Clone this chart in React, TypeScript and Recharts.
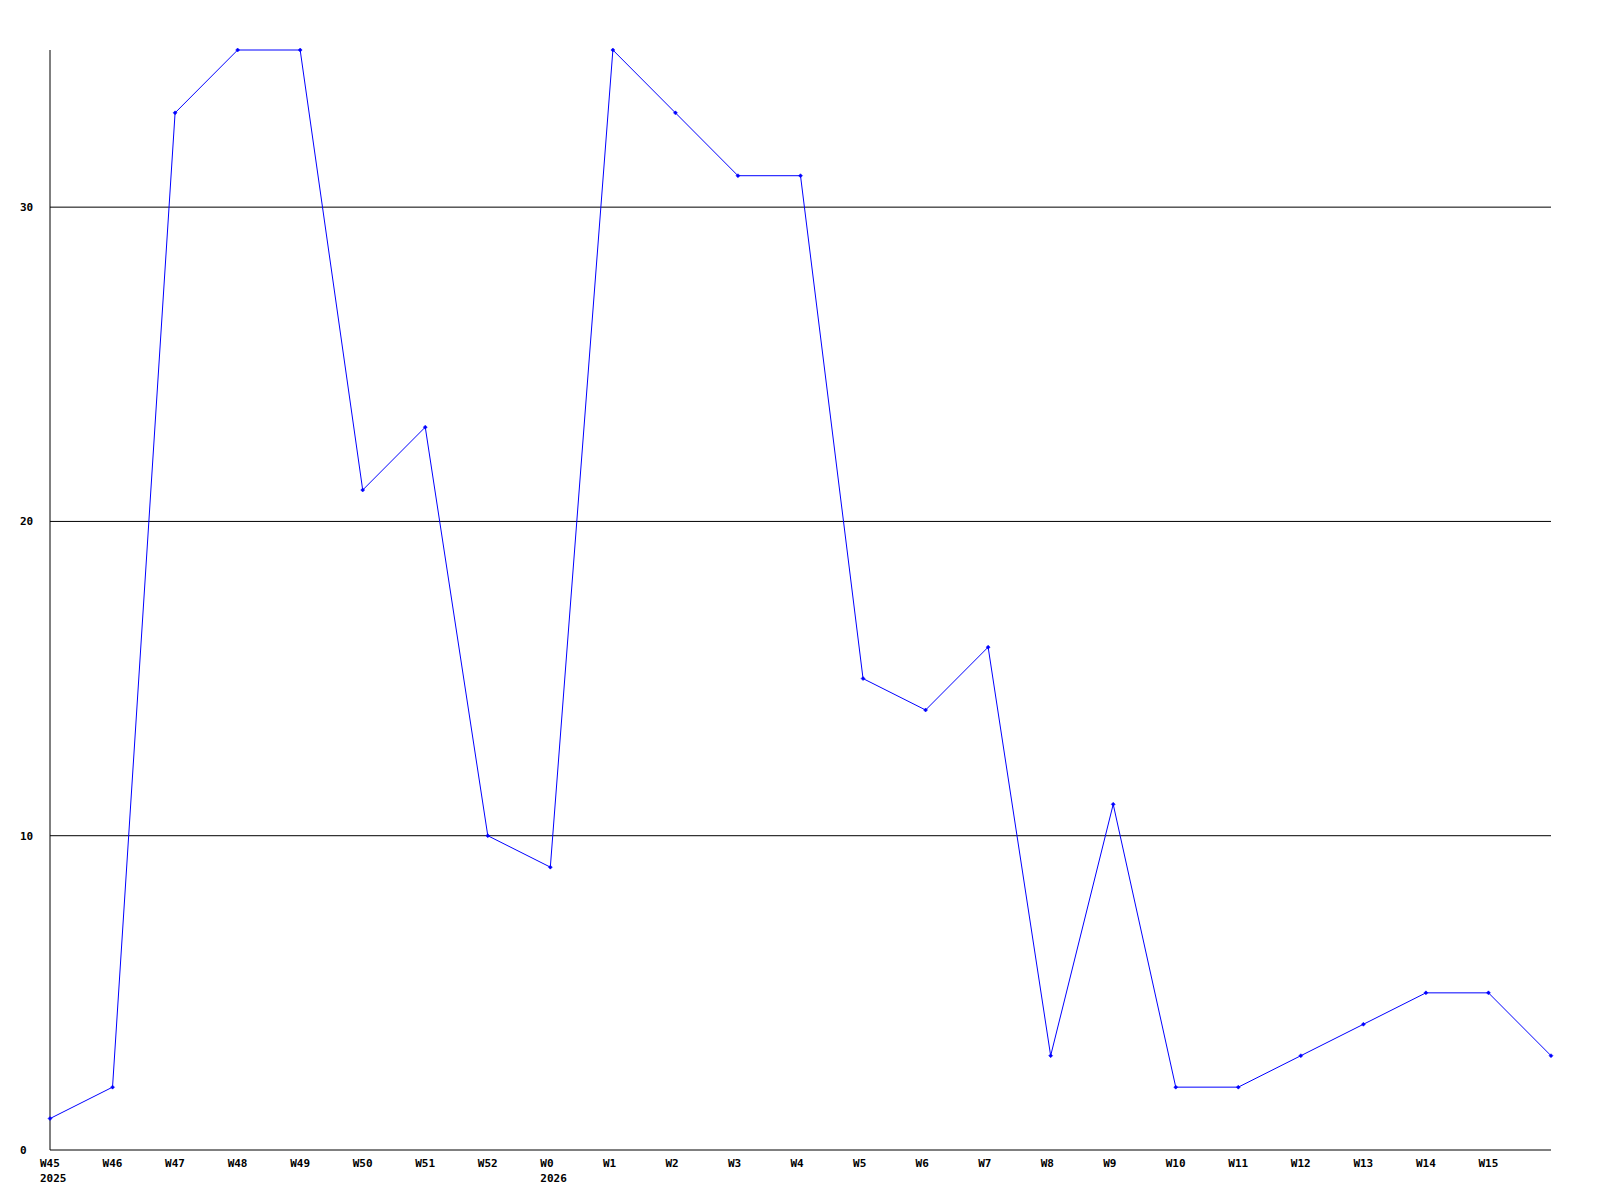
import { CartesianGrid, Line, LineChart, XAxis, YAxis } from "recharts";

const weeks = [
  "W45", "W46", "W47", "W48", "W49", "W50", "W51", "W52", "W0", "W1", "W2", "W3",
  "W4", "W5", "W6", "W7", "W8", "W9", "W10", "W11", "W12", "W13", "W14", "W15", "",
];
const counts = [1, 2, 33, 35, 35, 21, 23, 10, 9, 35, 33, 31, 31, 15, 14, 16, 3, 11, 2, 2, 3, 4, 5, 5, 3];
const years: Record<string, string> = { W45: "2025", W0: "2026" };
const yTicks = [0, 10, 20, 30];
const gridValues = [10, 20, 30];

const data = weeks.map((week, i) => ({ week, count: counts[i] }));

const font = { fontFamily: "'DejaVu Sans Mono', monospace", fontSize: 11, fontWeight: "bold" as const };

function WeekTick({ x, y, payload }: any) {
  const year = years[payload.value];
  return (
    <g>
      <text x={x - 10} y={y + 9} textAnchor="start" fill="#000" {...font}>
        {payload.value}
      </text>
      {year && (
        <text x={x - 10} y={y + 24} textAnchor="start" fill="#000" {...font}>
          {year}
        </text>
      )}
    </g>
  );
}

function CountTick({ y, payload }: any) {
  return (
    <text x={20} y={y + 4} textAnchor="start" fill="#000" {...font}>
      {payload.value}
    </text>
  );
}

function Marker({ cx, cy }: any) {
  if (cx == null || cy == null) return null;
  return (
    <path
      d={`M${cx - 2},${cy} L${cx},${cy - 2} L${cx + 2},${cy} L${cx},${cy + 2} Z`}
      fill="#0000ff"
      stroke="#0000ff"
      strokeWidth={0.5}
    />
  );
}

export default function App() {
  return (
    <div style={{ position: "absolute", left: 0, top: 0, width: 1600, height: 1200, background: "#fff" }}>
      <LineChart
        width={1600}
        height={1200}
        data={data}
        margin={{ top: 50, right: 49, bottom: 0, left: 0 }}
      >
        <CartesianGrid
          vertical={false}
          stroke="#000"
          strokeDasharray=""
          horizontalValues={gridValues}
        />
        <XAxis
          dataKey="week"
          interval={0}
          height={50}
          tickLine={false}
          axisLine={{ stroke: "#000" }}
          tick={<WeekTick />}
        />
        <YAxis
          width={50}
          domain={[0, 35]}
          ticks={yTicks}
          tickLine={false}
          axisLine={{ stroke: "#000" }}
          tick={<CountTick />}
        />
        <Line
          type="linear"
          dataKey="count"
          stroke="#0000ff"
          strokeWidth={1}
          dot={<Marker />}
          activeDot={false}
          isAnimationActive={false}
        />
      </LineChart>
    </div>
  );
}
